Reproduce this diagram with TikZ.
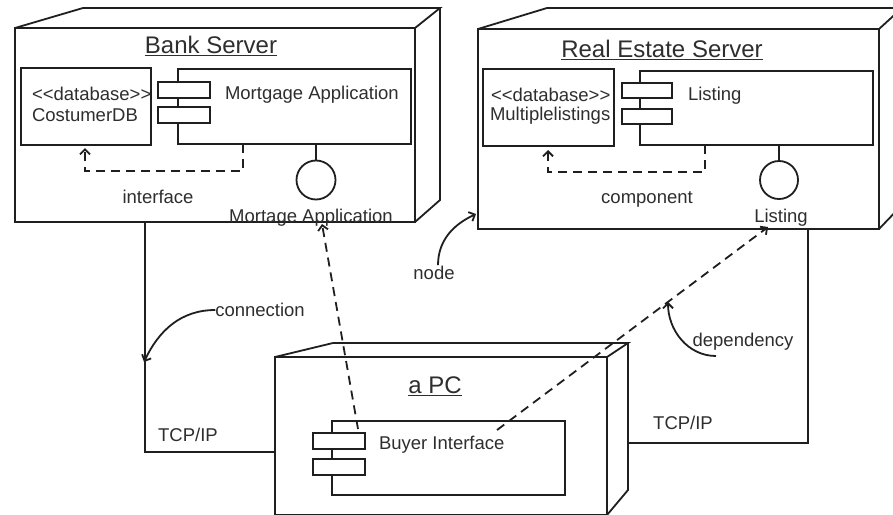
\documentclass[tikz,border=0pt]{standalone}
\usepackage{fontspec}
\setmainfont{Liberation Sans}
\usetikzlibrary{arrows.meta}
\newcommand\ltlt{<\kern0pt<}
\newcommand\gtgt{>\kern0pt>}
\begin{document}
\begin{tikzpicture}[x=1pt,y=-1pt,
  line width=1.8pt,
  every node/.style={inner sep=0pt,outer sep=0pt,text=black!82},
  box/.style n args={2}{draw=black!88,anchor=north west,minimum width=#1,minimum height=#2},
  port/.style={box={52}{16},fill=white},
  body/.style={font=\fontsize{18.5}{20}\selectfont},
  title/.style={font=\fontsize{24}{26}\selectfont},
  edge3d/.style={draw=black!88},
  dep/.style={draw=black!88,dash pattern=on 9pt off 6pt,-{Straight Barb[length=5pt,width=10pt]}},
  note/.style={draw=black!88,-{Straight Barb[length=5pt,width=10pt]}},
  conn/.style={draw=black!88}
]
\clip (0,0) rectangle (893,514);
\fill[white] (0,0) rectangle (893,514);

% ---------------- Bank Server ----------------
\node[box={400}{194}] (bank) at (15,28) {};
\coordinate (banktl) at (83,8);
\coordinate (banktr) at (440,8);
\coordinate (bankbr) at (440,200);
\draw[edge3d] (bank.north west) -- (banktl) -- (banktr) -- (bank.north east);
\draw[edge3d] (banktr) -- (bankbr) -- (bank.south east);
\node[title] (banktitle) at (211,46) {\underline{Bank Server}};

\node[box={130}{77}] (bankdb) at (21,68) {};
\node[body,anchor=west] (bankdbst) at (32,94) {\ltlt database\gtgt};
\node[body,anchor=west] (bankdbname) at (32,115) {CostumerDB};

\node[box={233}{75}] (bankcomp) at (178,69) {};
\node[port] (bankp1) at (158,82) {};
\node[port] (bankp2) at (158,107) {};
\node[body,anchor=west] (bankcompname) at (225,95) {Mortgage Application};

\node[circle,draw=black!88,minimum size=39pt] (bankball) at (316,180) {};
\draw[conn] (bankball.north) -- (bankball.north |- bankcomp.south);
\draw[dep] ([xshift=65pt]bankcomp.south west) -- ++(0,27) -| ([xshift=64pt,yshift=-3pt]bankdb.south west);
\node[body] (interface) at (158,197) {interface};
\node[body] (bankif) at (311,218) {Mortage Application};

% ---------------- Real Estate Server ----------------
\node[box={401}{200}] (re) at (478,29) {};
\coordinate (retl) at (547,8);
\coordinate (retr) at (902,8);
\coordinate (rebr) at (902,205);
\draw[edge3d] (re.north west) -- (retl) -- (retr) -- (re.north east);
\draw[edge3d] (retr) -- (rebr) -- (re.south east);
\node[title] (retitle) at (662,50) {\underline{Real Estate Server}};

\node[box={131}{77}] (redb) at (483,69) {};
\node[body,anchor=west] (redbst) at (491,95) {\ltlt database\gtgt};
\node[body,anchor=west] (redbname) at (490,116) {Multiplelistings};

\node[box={233}{74}] (recomp) at (640,71) {};
\node[port,minimum width=50pt,minimum height=15pt] (rep1) at (622,83) {};
\node[port,minimum width=50pt,minimum height=15pt] (rep2) at (622,109) {};
\node[body,anchor=west] (recompname) at (688,96) {Listing};

\node[circle,draw=black!88,minimum size=38pt] (reball) at (779,180) {};
\draw[conn] (reball.north) -- (reball.north |- recomp.south);
\draw[dep] ([xshift=65pt]recomp.south west) -- ++(0,27) -| ([xshift=65pt,yshift=-4pt]redb.south west);
\node[body] (component) at (647,199) {component};
\node[body] (reif) at (781,218) {Listing};

% ---------------- a PC ----------------
\node[box={332}{158}] (pc) at (275,357) {};
\coordinate (pctl) at (333,343);
\coordinate (pctr) at (628,343);
\coordinate (pcbr) at (628,490);
\draw[edge3d] (pc.north west) -- (pctl) -- (pctr) -- (pc.north east);
\draw[edge3d] (pctr) -- (pcbr) -- (pc.south east);
\node[title] (pctitle) at (435,386) {\underline{a PC}};

\node[box={233}{74}] (buyer) at (332,421) {};
\node[port] (buyp1) at (313,433) {};
\node[port] (buyp2) at (313,459) {};
\node[body,anchor=west] (buyername) at (379,445) {Buyer Interface};

% ---------------- connections ----------------
\draw[conn] ([xshift=130pt]bank.south west) |- ([yshift=-95pt]pc.north west);
\node[body] (tcpl) at (188,435) {TCP/IP};
\draw[conn] ([xshift=-71pt]re.south east) |- ([yshift=-100pt]pctr);
\node[body] (tcpr) at (683,423) {TCP/IP};

% ---------------- dependencies ----------------
\draw[dep] ([xshift=26pt,yshift=-8pt]buyer.north west) -- ([xshift=307pt,yshift=-2pt]bank.south west);
\draw[dep] ([xshift=165pt,yshift=-9pt]buyer.north west) -- ([xshift=290pt,yshift=2pt]re.south west);

% ---------------- annotations ----------------
\node[body] (connlabel) at (260,310) {connection};
\coordinate (connpt) at (144,362);
\draw[note] (connlabel.west) to[out=180,in=65] (connpt);

\node[body] (nodelabel) at (434,273) {node};
\coordinate (nodept) at (476,214);
\draw[note] ([xshift=4pt,yshift=1pt]nodelabel.north) to[out=90,in=205] (nodept);

\node[body] (deplabel) at (743,342) {dependency};
\coordinate (deppt) at (668,302);
\coordinate (depstart) at (716,356);
\draw[note] (depstart) to[out=180,in=270] (deppt);
\end{tikzpicture}
\end{document}
